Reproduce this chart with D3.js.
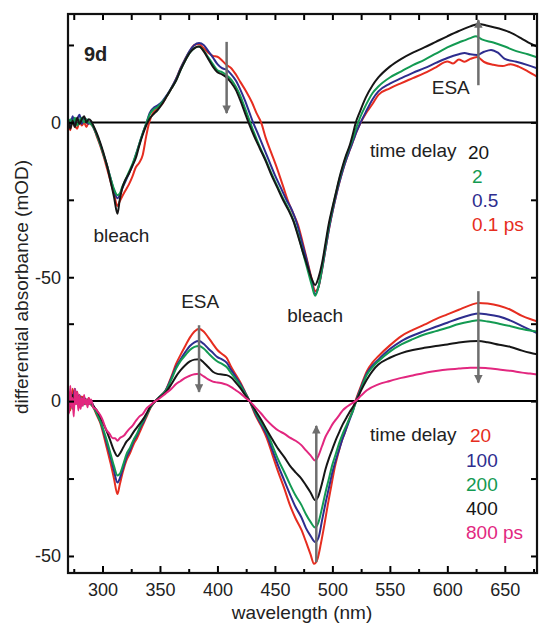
<!DOCTYPE html>
<html><head><meta charset="utf-8">
<script src="https://cdn.jsdelivr.net/npm/d3@7"></script>
<style>
html,body{margin:0;padding:0;background:#fff;}
svg text{font-family:"Liberation Sans",Arial,sans-serif;}
</style></head>
<body><svg id="chart" width="540" height="625"></svg>
<script>
// ---------- DATA ----------
const topOffset = 0, bottomOffset = -90;
const xTicksMajor = [300,350,400,450,500,550,600,650];
const xTicksMinor = [275,325,375,425,475,525,575,625,675];
const xTicksTop = [275,300,325,350,375,400,425,450,475,500,525,550,575,600,625,650,675];
const yTicks = [25,0,-25,-50,-65,-90,-115,-140];
const yTickLabels = {"0":"0","-50":"-50","-90":"0","-140":"-50"};

const topLabels = ["20","2","0.5","0.1 ps"];
const bottomLabels = ["20","100","200","400","800 ps"];

// top panel, time delay 20 ps (black)
const top20 = [[270,1],[272,-2],[274,0.5],[276,-1.5],[278,1.5],[280,-0.5],[282,1],[284,2],[286,0],[288,1],[290,0.5],[292,-1],[295,-3.5],[298,-6.5],[301,-10],[304,-14],[307,-19],[310,-24],[313,-29.5],[315,-25],[317,-21.5],[320,-18.5],[323,-16.5],[326,-14],[329,-11.5],[332,-7.5],[335,-4],[338,-1],[341,1.2],[344,2.5],[348,4],[352,6],[356,8.5],[360,11],[364,13.5],[368,17],[372,20],[376,22.5],[380,24],[384,24.5],[388,23],[392,20.5],[396,18],[400,16.2],[404,15.5],[408,14.5],[412,12.8],[416,10.5],[420,7],[424,3],[427,0],[432,-4.5],[437,-8.5],[442,-12.5],[447,-17],[452,-21],[457,-25],[462,-28.5],[466,-31.8],[470,-36.5],[474,-41.5],[478,-46],[482,-50.5],[485,-52.5],[488,-50],[491,-45.5],[494,-39],[497,-32.5],[500,-27.5],[503,-22.8],[506,-18],[509,-14],[512,-10.5],[515,-7.5],[518,-3.5],[520,-0.5],[524,3.5],[529,8],[535,12],[540,14.5],[550,18],[560,20.5],[570,22.5],[580,24.2],[590,26],[600,27.8],[610,29.5],[620,31],[627,31.8],[635,31.2],[645,30.3],[655,29],[665,27],[672,25.5],[678,24.5]];
// top panel, 2 ps (green)
const top2 = [[270,-1],[272,1],[274,-0.5],[276,1.5],[278,-1],[280,0.5],[282,1.5],[284,0],[286,1],[288,0],[290,-0.5],[292,-1.5],[295,-4],[298,-7],[301,-10.5],[304,-14],[307,-18],[310,-21.5],[313,-23.5],[315,-23],[317,-21],[320,-18.5],[323,-16],[326,-13.5],[329,-10.5],[332,-7],[335,-3.5],[338,-0.5],[341,2.5],[344,4],[348,5],[352,6.5],[356,8.5],[360,11],[364,13.5],[368,17],[372,20],[376,22.5],[380,24],[384,24.5],[388,23.2],[392,21],[396,18.8],[400,16.8],[404,16.2],[408,15.2],[412,13.8],[416,11.5],[420,8.5],[424,4.5],[428,0.5],[432,-3.5],[437,-8],[442,-12],[447,-16.5],[452,-20.5],[457,-24.5],[462,-28],[466,-31.5],[470,-36],[474,-41.5],[478,-47],[482,-52.5],[485,-56],[488,-53],[491,-47],[494,-40],[497,-33.5],[500,-28],[503,-23],[506,-18.5],[509,-14.5],[512,-11],[515,-8],[518,-5],[521,-1.5],[524,1.5],[529,5.5],[535,9.5],[540,11.6],[550,14.5],[560,16.5],[570,18.5],[580,20.2],[590,22.2],[600,24.2],[610,25.8],[615,26.5],[620,27.2],[625,27.8],[630,26.8],[640,25.8],[650,24.5],[660,23],[670,22],[678,21]];
// top panel, 0.5 ps (blue)
const top05 = [[270,0.5],[272,-1.5],[274,2],[276,-0.5],[278,1],[280,2.5],[282,-0.5],[284,1.5],[286,0.5],[288,-0.5],[290,0],[292,-1.5],[295,-4],[298,-7],[301,-10.5],[304,-14],[307,-18],[310,-22],[313,-24.5],[315,-23.5],[317,-21.5],[320,-19],[323,-16.5],[326,-14],[329,-10.5],[332,-7],[335,-3.5],[338,-0.5],[341,3],[344,4.5],[348,5.5],[352,6.8],[356,8.8],[360,11.2],[364,14],[368,17.5],[372,20.5],[376,23.2],[380,25],[384,25.6],[388,25],[392,23],[396,21],[400,18.8],[404,17.5],[408,17],[412,15.5],[416,13.5],[420,10.5],[424,7],[428,3],[431,0],[435,-3.5],[440,-8],[445,-12.5],[450,-17],[455,-21],[460,-25],[465,-28.5],[469,-32.5],[473,-38],[477,-43.5],[481,-49.5],[485,-55.5],[488,-53],[491,-47.5],[494,-41],[497,-34.5],[500,-29],[503,-24],[506,-19.5],[509,-15.5],[512,-12],[515,-9],[518,-6],[521,-3],[524,-0.5],[529,3.3],[535,7.5],[540,10],[550,12.5],[560,14.3],[570,16],[580,17.5],[590,19.2],[600,20.8],[610,22],[615,22.4],[620,22],[626,21.8],[632,22.8],[638,23.4],[644,22.5],[650,20.5],[660,19.6],[670,18.5],[678,17.5]];
// top panel, 0.1 ps (red)
const top01 = [[270,-0.5],[272,-2.5],[274,1],[276,-1],[278,-2],[280,0.5],[282,-1],[284,0],[286,-1.5],[288,0],[290,-0.5],[292,-1.5],[295,-4.5],[298,-7.5],[301,-11],[304,-15],[307,-19],[310,-23],[313,-27],[315,-25.5],[317,-24],[320,-22],[323,-20],[326,-17.5],[329,-14.5],[332,-13],[335,-10.5],[338,-4.5],[341,0.5],[344,3],[348,4.5],[352,6],[356,8.5],[360,11],[364,14],[368,17.5],[372,20.5],[376,23],[380,25],[384,25.3],[388,24],[392,22.5],[396,21.5],[400,21.2],[404,20],[408,18.5],[412,17.5],[416,15.5],[420,13],[425,10],[430,6.5],[434,3],[438,0],[442,-5],[447,-10],[452,-15],[457,-20.5],[462,-26],[466,-29.5],[470,-33],[474,-38.5],[478,-44.5],[482,-50.5],[485,-54.5],[488,-53],[491,-47.5],[494,-41],[497,-34.5],[500,-29],[503,-24],[506,-19.5],[509,-15.5],[512,-12],[515,-9],[518,-6],[521,-3],[524,-0.5],[529,2.8],[535,6],[540,8.9],[550,11],[560,12.7],[570,14.3],[580,15.9],[590,17.8],[600,19.7],[605,19],[610,20.3],[615,19.6],[620,20.5],[626,21.1],[632,19.5],[640,18.6],[648,18.2],[655,18.8],[662,18],[670,16.5],[678,14.8]];

// bottom panel, 20 ps (red)
const bot20 = [[270,2],[272,-3],[274,4],[276,-1],[278,3],[280,-2],[282,1.5],[284,0],[286,-1],[288,1],[290,-1],[292,-2],[295,-4.5],[298,-7],[301,-11],[304,-15.5],[307,-20],[310,-25],[313,-30],[315,-27],[318,-22.5],[321,-19],[324,-16.8],[327,-14],[330,-12],[333,-9.5],[336,-7],[339,-4.5],[342,-2],[346,0],[350,1.5],[355,3.5],[360,8],[364,12],[368,15],[372,17.8],[376,20.5],[380,22.5],[384,23.4],[388,22.5],[392,20.6],[396,18.5],[400,16.5],[404,15.2],[408,14],[412,11],[416,8.5],[420,6],[424,3],[428,0],[433,-4.5],[438,-8],[443,-12],[448,-17.5],[453,-23],[458,-28],[463,-33.5],[468,-37.9],[473,-41.5],[477,-45.4],[481,-49.5],[484,-52.5],[487,-51],[490,-46],[493,-40],[496,-33.5],[499,-27.5],[502,-21.5],[505,-17],[508,-13],[511,-10],[514,-6.5],[517,-3.5],[520,0],[525,5],[530,9.7],[535,12.5],[540,14.5],[550,18],[560,21],[570,23],[580,24.7],[590,26.5],[600,28],[610,29.5],[620,31],[627,31.7],[635,31.5],[645,30.8],[655,29.5],[665,27.5],[672,26.5],[678,25.8]];
// bottom panel, 100 ps (blue)
const bot100 = [[270,-2],[272,3],[274,-1],[276,4],[278,0],[280,2],[282,-1.5],[284,1],[286,0],[288,-1],[290,0],[292,-1.5],[295,-4],[298,-6.5],[301,-10],[304,-14],[307,-18],[310,-22.5],[313,-26.3],[315,-25],[318,-21.5],[321,-18],[324,-15.8],[327,-13],[330,-11],[333,-8.5],[336,-6.5],[339,-4],[342,-1.8],[346,0],[350,1.5],[355,3.5],[360,7.5],[364,11],[368,13.5],[372,15.8],[376,17.8],[380,19],[384,19.4],[388,18.5],[392,17],[396,15.6],[400,14.2],[404,13.5],[408,12.4],[412,10],[416,7.8],[420,5.5],[424,2.8],[428,0],[433,-4],[438,-7.5],[443,-11],[448,-16],[453,-21],[458,-25.5],[463,-30],[468,-34.2],[473,-37.5],[477,-41],[481,-43.5],[485,-45.5],[488,-44],[491,-38.5],[494,-33],[497,-28],[500,-23],[503,-19],[506,-15.5],[509,-12],[512,-9],[515,-6],[518,-3],[520,-0.5],[525,4.5],[530,9],[535,11.5],[540,13.4],[550,16.8],[560,19.4],[570,21.2],[580,22.6],[590,24],[600,25.3],[610,26.7],[620,27.8],[627,28.3],[635,28],[645,27.3],[655,26],[665,24.2],[672,23],[678,22]];
// bottom panel, 200 ps (green)
const bot200 = [[270,-1],[272,1.5],[274,-2.5],[276,1],[278,-1],[280,0.5],[282,1],[284,-1],[286,0.5],[288,-0.5],[290,-1],[292,-2],[295,-4],[298,-6.5],[301,-9.5],[304,-13],[307,-17],[310,-21],[313,-24],[315,-23.5],[318,-20.5],[321,-17],[324,-15],[327,-12.5],[330,-10.5],[333,-8],[336,-6],[339,-4],[342,-1.8],[346,0],[350,1.5],[355,3.3],[360,7],[364,10.5],[368,13],[372,14.8],[376,16.5],[380,17.5],[384,17.8],[388,17],[392,15.5],[396,14],[400,12.8],[404,12],[408,11],[412,9],[416,7],[420,5],[424,2.5],[428,0],[433,-3.5],[438,-6.8],[443,-10],[448,-14.5],[453,-19],[458,-22.8],[463,-26.8],[468,-30.5],[473,-33.5],[477,-36.5],[481,-39],[485,-40.8],[488,-39],[491,-34.5],[494,-29.5],[497,-25],[500,-20.5],[503,-17],[506,-13.5],[509,-10.5],[512,-8],[515,-5.5],[518,-3],[520,-0.8],[525,4],[530,8.5],[535,11],[540,12.9],[550,16],[560,18.3],[570,20],[580,21.5],[590,22.6],[600,23.7],[610,24.9],[620,25.7],[627,26.1],[635,25.7],[645,25],[655,24.2],[665,23.3],[672,22.8],[678,22.5]];
// bottom panel, 400 ps (black)
const bot400 = [[270,1],[272,-1.5],[274,2],[276,-0.5],[278,1.5],[280,-1],[282,0.5],[284,1],[286,-0.5],[288,0],[290,-0.5],[292,-1.5],[295,-3],[298,-5],[301,-7.5],[304,-10],[307,-13],[310,-16],[313,-17.8],[315,-17],[318,-15],[321,-13],[324,-11.8],[327,-10],[330,-8.5],[333,-7],[336,-5.5],[339,-3.5],[342,-1.5],[346,0],[350,1.3],[355,2.8],[360,5.5],[364,8],[368,10],[372,11.6],[376,12.8],[380,13.4],[384,13.5],[388,12.5],[392,11],[396,9.5],[400,8.8],[404,8.6],[408,8.4],[412,7.6],[416,6],[420,4.2],[424,2],[428,0],[433,-3],[438,-6],[443,-9.3],[448,-12.5],[453,-15.5],[458,-18],[463,-20.8],[468,-23],[473,-25],[477,-27.2],[481,-29.5],[485,-32],[488,-30.5],[491,-26.5],[494,-22],[497,-18.5],[500,-15.5],[503,-12.5],[506,-10],[509,-7.5],[512,-5.5],[515,-3.5],[518,-1.8],[520,-0.5],[525,3.5],[530,7],[535,9.8],[540,11.8],[550,14],[560,15.5],[570,16.5],[580,17.2],[590,17.8],[600,18.3],[610,18.9],[620,19.3],[627,19.4],[635,19],[645,18.2],[655,17.5],[665,16.3],[672,15.6],[678,15.1]];
// bottom panel, 800 ps (magenta)
const bot800 = [[270,3],[271,-4],[272,5],[273,-2],[274,1],[275,-5],[276,4],[277,-1],[278,3],[279,-3],[280,2],[281,-2.5],[282,1],[283,-1.5],[284,2],[285,-1],[286,0.5],[287,-2],[288,1],[289,-1],[290,0.5],[292,-2],[294,-2.5],[296,-3.5],[298,-4.5],[300,-6],[303,-9],[306,-10.5],[309,-12],[311,-12],[313,-12.8],[315,-12],[317,-11.5],[319,-11],[321,-10],[323,-9.1],[326,-8],[329,-6.4],[332,-5],[335,-4.2],[338,-2.5],[341,-1.5],[346,0],[350,1],[355,2.5],[360,4],[364,5.5],[368,6.5],[372,7.5],[376,8.2],[380,8.7],[384,8.8],[388,8],[392,7],[396,6.3],[400,6],[404,5.8],[408,5.3],[412,4.5],[416,3.5],[420,2.5],[424,1.2],[428,0],[433,-2],[438,-4],[443,-6.2],[448,-8],[453,-9.5],[458,-10.5],[463,-11.8],[468,-12.8],[473,-14.2],[477,-15.9],[481,-17.5],[485,-19.2],[488,-17.5],[491,-14.5],[494,-11.5],[497,-9.5],[500,-7.5],[503,-6],[506,-4.5],[509,-3],[512,-2],[515,-1.2],[518,-0.5],[520,0],[525,1.8],[530,3.5],[540,5.4],[550,6.5],[560,7.5],[570,8.3],[580,9.1],[590,9.7],[600,10.2],[610,10.5],[620,10.8],[627,10.8],[635,10.6],[645,10.2],[655,9.8],[665,9.2],[672,8.9],[678,8.6]];

// arrows: [wavelength, from value, to value, panel offset]
const arrows = [[408,26,3,0],[627,12,33,0],[384,24.5,3,-90],[486,-52,-8,-90],[627,35.5,6,-90]];

// ---------- CHART ----------
const svg = d3.select("#chart");
const L = 68, R = 537, T = 14, B = 573;
const x = d3.scaleLinear().domain([270, 678]).range([L, R]);
const y = d3.scaleLinear().domain([-145.5, 35]).range([B, T]);

const colors = {black:"#161616", green:"#139a52", blue:"#2e2d8e", red:"#e62d20", magenta:"#e2277f"};

svg.append("defs").append("clipPath").attr("id","clip")
  .append("rect").attr("x",L).attr("y",T).attr("width",R-L).attr("height",B-T);
const marker = svg.select("defs").append("marker").attr("id","ah")
  .attr("viewBox","0 0 10 10").attr("refX",9).attr("refY",5)
  .attr("markerWidth",4.5).attr("markerHeight",3.4).attr("markerUnits","strokeWidth")
  .attr("orient","auto");
marker.append("path").attr("d","M0,0 L10,5 L0,10 Z").attr("fill","#6e6e6e");

const plot = svg.append("g").attr("clip-path","url(#clip)");

// zero lines
[topOffset, bottomOffset].forEach(o=>{
  plot.append("line").attr("x1",L).attr("x2",R).attr("y1",y(o)).attr("y2",y(o))
    .attr("stroke","#000").attr("stroke-width",2);
});

function draw(data, offset, color){
  const line = d3.line().x(d=>x(d[0])).y(d=>y(d[1]+offset)).curve(d3.curveMonotoneX);
  plot.append("path").datum(data).attr("d",line).attr("fill","none")
    .attr("stroke",color).attr("stroke-width",2).attr("stroke-linejoin","round");
}
draw(top01, topOffset, colors.red);
draw(top05, topOffset, colors.blue);
draw(top2, topOffset, colors.green);
draw(top20, topOffset, colors.black);

draw(bot20, bottomOffset, colors.red);
draw(bot100, bottomOffset, colors.blue);
draw(bot200, bottomOffset, colors.green);
draw(bot400, bottomOffset, colors.black);
draw(bot800, bottomOffset, colors.magenta);

// arrows
arrows.forEach(a=>{
  svg.append("line").attr("x1",x(a[0])).attr("x2",x(a[0]))
    .attr("y1",y(a[1]+a[3])).attr("y2",y(a[2]+a[3]))
    .attr("stroke","#6e6e6e").attr("stroke-width",2.5).attr("marker-end","url(#ah)");
});

// axes
const fontTick = "18px";
const axB = svg.append("g").attr("transform",`translate(0,${B})`)
  .call(d3.axisBottom(x).tickValues(xTicksMajor).tickSizeInner(-7).tickSizeOuter(0).tickPadding(10));
axB.selectAll("text").attr("font-size",fontTick).attr("fill","#222");
svg.append("g").attr("transform",`translate(0,${B})`)
  .call(d3.axisBottom(x).tickValues(xTicksMinor).tickSizeInner(-4).tickSizeOuter(0).tickFormat(""));
svg.append("g").attr("transform",`translate(0,${T})`)
  .call(d3.axisTop(x).tickValues(xTicksTop).tickSizeInner(-6).tickSizeOuter(0).tickFormat(""));
const axL = svg.append("g").attr("transform",`translate(${L},0)`)
  .call(d3.axisLeft(y).tickValues(yTicks).tickSizeInner(-6).tickSizeOuter(0).tickPadding(7)
    .tickFormat(d=>yTickLabels[String(d)]||""));
axL.selectAll("text").attr("font-size",fontTick).attr("fill","#222");
svg.append("g").attr("transform",`translate(${R},0)`)
  .call(d3.axisRight(y).tickValues(yTicks).tickSizeInner(-6).tickSizeOuter(0).tickFormat(""));
svg.selectAll(".domain").remove();
svg.selectAll(".tick line").attr("stroke","#000").attr("stroke-width",2);

// frame
svg.append("rect").attr("x",L).attr("y",T).attr("width",R-L).attr("height",B-T)
  .attr("fill","none").attr("stroke","#111").attr("stroke-width",2.2);

// axis titles
svg.append("text").attr("x",302).attr("y",619).attr("text-anchor","middle")
  .attr("font-size","19px").attr("fill","#222").text("wavelength (nm)");
svg.append("text").attr("transform",`translate(28,287) rotate(-90)`)
  .attr("text-anchor","middle").attr("font-size","19px").attr("fill","#222")
  .text("differential absorbance (mOD)");

// annotations
function label(tx, px, py, opts={}){
  svg.append("text").attr("x",px).attr("y",py).attr("font-size",opts.size||"19px")
    .attr("font-weight",opts.weight||"normal").attr("fill",opts.fill||"#222")
    .attr("text-anchor",opts.anchor||"start").text(tx);
}
label("9d", 84, 61, {weight:"bold", size:"20px"});
label("bleach", x(316.5), y(-38.6), {anchor:"middle"});
label("bleach", x(485), y(-64.5), {anchor:"middle"});
label("ESA", x(603), y(9.2), {anchor:"middle"});
label("ESA", x(385), y(-90+30.1), {anchor:"middle"});

label("time delay", 370, 157);
const topCols = [colors.black, colors.green, colors.blue, colors.red];
const topY = [159, 183, 207, 231];
topLabels.forEach((t,i)=>label(t, i===0?468:472, topY[i], {fill:topCols[i]}));

label("time delay", 370, 441);
const botCols = [colors.red, colors.blue, colors.green, colors.black, colors.magenta];
const botY = [442, 467, 491, 515, 539];
bottomLabels.forEach((t,i)=>label(t, i===0?470:466, botY[i], {fill:botCols[i]}));
</script>
</body></html>
